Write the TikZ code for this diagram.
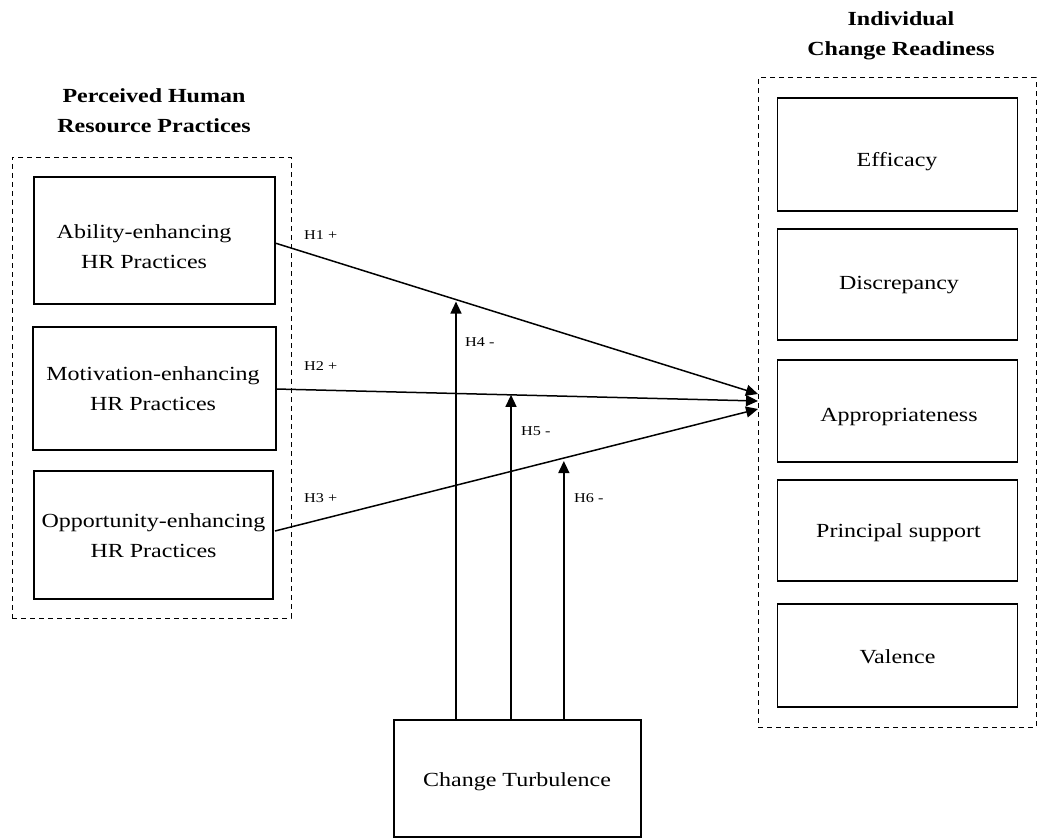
\documentclass[tikz,border=0pt]{standalone}
\usepackage{fontspec}
\setmainfont{Liberation Serif}[FakeStretch=1.2]
\usetikzlibrary{arrows.meta,calc}
\begin{document}
\begin{tikzpicture}[x=1pt,y=-1pt,
  box/.style={draw, line width=1.4pt, inner sep=0pt, outer sep=0pt},
  grp/.style={draw, line width=1pt, dash pattern=on 5pt off 4pt, inner sep=0pt},
  txt/.style={inner sep=0pt, align=center, font=\fontsize{20}{30}\selectfont},
  ttl/.style={inner sep=0pt, align=center, font=\fontsize{20}{30}\selectfont\bfseries},
  lbl/.style={inner sep=0pt, anchor=base west, font=\fontsize{13.5}{16}\selectfont},
  link/.style={line width=1.5pt, -{Triangle[length=12pt,width=11pt]}}]
\useasboundingbox (0,0) rectangle (1041,840);

% groups
\node[grp, minimum width=279pt, minimum height=461pt] (hrm) at (151.5,387.5) {};
\node[grp, minimum width=278pt, minimum height=649pt] (icr) at (897,402.5) {};

% titles
\node[ttl] (hrmt) at (154,110.2) {Perceived Human\\Resource Practices};
\node[ttl] (icrt) at (901,35.3) {Individual\\Change Readiness};

% left boxes
\node[box, minimum width=241pt, minimum height=127pt] (ab) at (154.5,240.5) {};
\node[box, minimum width=243pt, minimum height=123pt] (mo) at (154.5,388.5) {};
\node[box, minimum width=239pt, minimum height=128pt] (op) at (153.5,535) {};
\node[txt] (abt) at (144,246.2) {Ability-enhancing\\HR Practices};
\node[txt] (mot) at (153,388.5) {Motivation-enhancing\\HR Practices};
\node[txt] (opt) at (153.5,535.7) {Opportunity-enhancing\\HR Practices};

% right boxes
\node[box, minimum width=240pt, minimum height=113pt] (ef) at (897.5,154.5) {};
\node[box, minimum width=240pt, minimum height=111pt] (di) at (897.5,284.5) {};
\node[box, minimum width=240pt, minimum height=102pt] (ap) at (897.5,411) {};
\node[box, minimum width=240pt, minimum height=101pt] (ps) at (897.5,530.5) {};
\node[box, minimum width=240pt, minimum height=103pt] (va) at (897.5,655.5) {};
\node[txt, anchor=base] (eft) at (897,166) {Efficacy};
\node[txt, anchor=base] (dit) at (899,289) {Discrepancy};
\node[txt, anchor=base] (apt) at (899,421) {Appropriateness};
\node[txt, anchor=base] (pst) at (898.5,537) {Principal support};
\node[txt, anchor=base] (vat) at (897.5,663) {Valence};

% moderator
\node[box, minimum width=247pt, minimum height=117pt] (ct) at (517.5,778.5) {};
\node[txt, anchor=base] (ctt) at (517,786) {Change Turbulence};

% path end points
\coordinate (s1) at (275,243);
\coordinate (s2) at (276,389);
\coordinate (s3) at (275,531);
\coordinate (e1) at (758,394);
\coordinate (e2) at (758,401);
\coordinate (e3) at (758,409);

\draw[link] (s1) -- (e1);
\draw[link] (s2) -- (e2);
\draw[link] (s3) -- (e3);

\coordinate (m1) at ($(s1)!0.3747!(e1)$);
\coordinate (m2) at ($(s2)!0.4876!(e2)$);
\coordinate (m3) at ($(s3)!0.598!(e3)$);

\draw[link, shorten >=2pt] (ct.north -| m1) -- (m1);
\draw[link] (ct.north -| m2) -- (m2);
\draw[link, shorten >=3pt] (ct.north -| m3) -- (m3);

% labels
\node[lbl] (h1) at (304,239) {H1 +};
\node[lbl] (h2) at (304,370) {H2 +};
\node[lbl] (h3) at (304,502) {H3 +};
\node[lbl] (h4) at (465,346) {H4 -};
\node[lbl] (h5) at (521,435) {H5 -};
\node[lbl] (h6) at (574,502) {H6 -};
\end{tikzpicture}
\end{document}
